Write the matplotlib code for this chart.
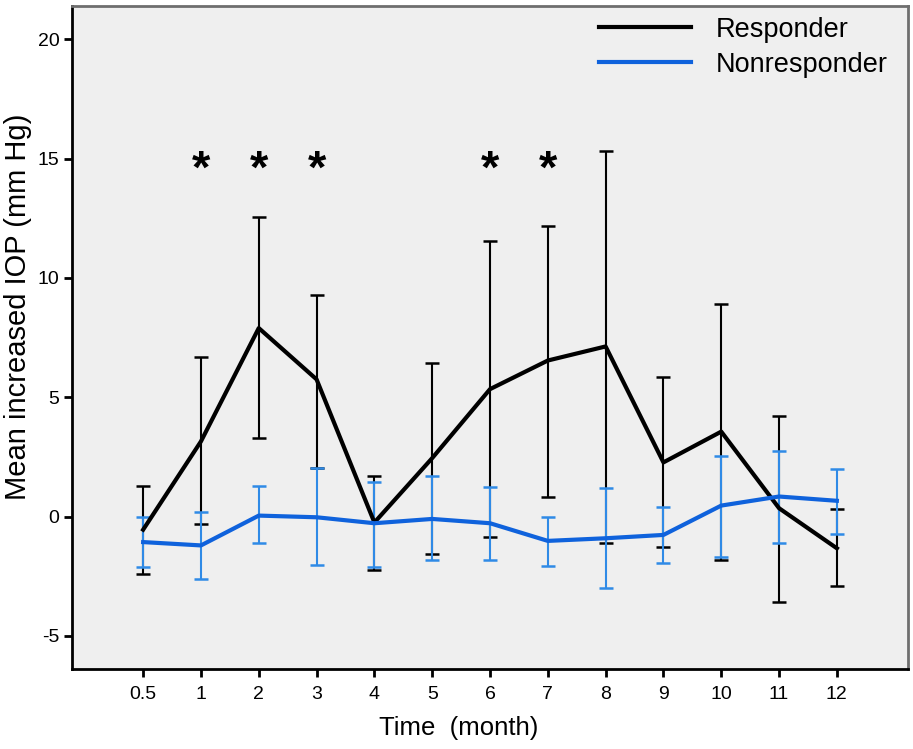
import matplotlib
matplotlib.use("Agg")
import matplotlib.pyplot as plt
import numpy as np

plt.rcParams['font.family'] = ['Liberation Sans', 'DejaVu Sans']
plt.rcParams['axes.unicode_minus'] = False

time_labels = ['0.5', '1', '2', '3', '4', '5', '6', '7', '8', '9', '10', '11', '12']

resp_mean = [-0.55, 3.15, 7.9, 5.75, -0.25, 2.45, 5.34, 6.54, 7.13, 2.27, 3.56, 0.35, -1.33]
resp_upper = [1.26, 6.68, 12.55, 9.28, 1.71, 6.43, 11.55, 12.19, 15.33, 5.84, 8.9, 4.22, 0.31]
resp_lower = [-2.40, -0.32, 3.29, 2.03, -2.26, -1.58, -0.87, 0.80, -1.09, -1.26, -1.84, -3.59, -2.91]

nonresp_mean = [-1.07, -1.21, 0.04, -0.03, -0.28, -0.10, -0.28, -1.02, -0.91, -0.77, 0.46, 0.84, 0.66]
nonresp_upper = [0.0, 0.21, 1.26, 2.03, 1.44, 1.68, 1.22, 0.0, 1.18, 0.38, 2.55, 2.73, 1.99]
nonresp_lower = [-2.12, -2.61, -1.12, -2.05, -2.10, -1.84, -1.84, -2.07, -2.98, -1.93, -1.68, -1.09, -0.74]

sig_labels = ['1', '2', '3', '6', '7']
sig_y = 14.5

x = np.arange(len(time_labels))

fig = plt.figure(figsize=(9.13, 7.49), dpi=100)
ax = fig.add_axes([0.0789, 0.1068, 0.9156, 0.8852])
ax.set_facecolor('#efefef')

black = '#000000'
blue_line = '#0f62dc'
blue_err = '#2f8ae6'

rm = np.array(resp_mean)
ax.errorbar(x, rm, yerr=[rm - np.array(resp_lower), np.array(resp_upper) - rm],
            fmt='none', ecolor=black, elinewidth=1.5, capsize=5, capthick=1.8, zorder=2)
nm = np.array(nonresp_mean)
ax.errorbar(x, nm, yerr=[nm - np.array(nonresp_lower), np.array(nonresp_upper) - nm],
            fmt='none', ecolor=blue_err, elinewidth=1.5, capsize=5, capthick=1.8, zorder=3)
ax.plot(x, rm, color=black, lw=3, label='Responder', zorder=4)
ax.plot(x, nm, color=blue_line, lw=3, label='Nonresponder', zorder=5)

for s in sig_labels:
    i = time_labels.index(s)
    ax.text(x[i], sig_y, '*', fontsize=34, fontweight='bold', ha='center', va='center', color='black')

ax.set_xlim(-1.23, len(time_labels) - 1 + 1.23)
ax.set_ylim(-6.39, 21.4)
ax.set_xticks(x)
ax.set_xticklabels(time_labels)
ax.set_yticks([-5, 0, 5, 10, 15, 20])
ax.tick_params(axis='both', direction='out', length=6, width=2, labelsize=14, colors='black', pad=3)
ax.tick_params(axis='x', pad=6)

for side in ['left', 'bottom']:
    ax.spines[side].set_color('black')
    ax.spines[side].set_linewidth(2)
for side in ['top', 'right']:
    ax.spines[side].set_color('#6e6e6e')
    ax.spines[side].set_linewidth(2)

ax.set_xlabel('Time  (month)', fontsize=18.5)
ax.xaxis.set_label_coords(0.462, -0.0709)
ax.set_ylabel('Mean increased IOP (mm Hg)', fontsize=21)
ax.yaxis.set_label_coords(-0.0478, 0.547)

leg = ax.legend(loc='upper right', frameon=False, fontsize=19.5, handlelength=3.4,
                handletextpad=0.93, labelspacing=0.33, borderaxespad=0.0,
                bbox_to_anchor=(0.989, 1.0))

fig.savefig('out.png', dpi=100, facecolor='white')
